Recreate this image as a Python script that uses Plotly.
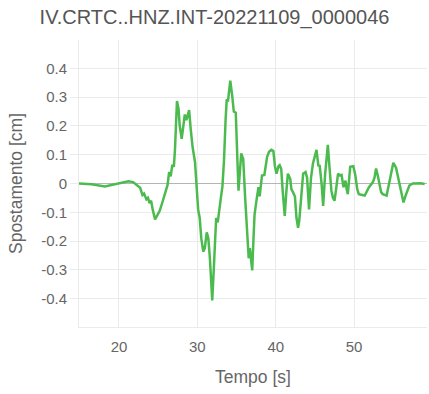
import plotly.graph_objects as go

# Displacement trace, vertical component
tempo = [
    14.9, 16.5, 18.2, 19.5, 21.2, 21.8, 22.4, 22.7, 23.0, 23.2, 23.5, 23.7, 23.9, 24.1,
    24.3, 24.6, 24.9, 25.2, 25.6, 25.9, 26.2, 26.4, 26.6, 26.8, 27.0, 27.15, 27.4, 27.6,
    27.75, 28.0, 28.2, 28.4, 28.6, 28.8, 28.95, 29.15, 29.4, 29.7, 29.9, 30.1, 30.3, 30.5,
    30.75, 30.95, 31.2, 31.4, 31.6, 31.9, 32.1, 32.25, 32.4, 32.6, 32.8, 33.0, 33.2, 33.4,
    33.6, 33.75, 33.9, 34.2, 34.45, 34.65, 34.9, 35.05, 35.25, 35.6, 35.85, 36.1, 36.3,
    36.55, 36.7, 37.0, 37.15, 37.3, 37.6, 37.8, 37.95, 38.25, 38.55, 38.9, 39.15, 39.45,
    39.7, 39.9, 40.1, 40.35, 40.5, 40.7, 40.9, 41.15, 41.35, 41.55, 41.85, 42.0, 42.2,
    42.45, 42.65, 42.85, 43.0, 43.15, 43.35, 43.5, 43.8, 44.0, 44.25, 44.5, 44.75, 45.0,
    45.2, 45.45, 45.6, 45.85, 46.05, 46.3, 46.5, 46.65, 46.85, 47.1, 47.3, 47.5, 47.75,
    47.95, 48.2, 48.4, 48.65, 48.9, 49.05, 49.2, 49.5, 49.9, 50.15, 50.4, 50.6, 51.0,
    51.35, 51.9, 52.4, 52.6, 52.8, 53.0, 53.2, 53.45, 53.65, 54.15, 54.5, 54.8, 55.0,
    55.35, 55.8, 56.1, 56.3, 56.6, 57.05, 57.5, 57.9, 58.5, 59.0,
]
spostamento = [
    0.0, -0.003, -0.01, -0.002, 0.008, 0.005, -0.010, -0.015, -0.040, -0.035, -0.055, -0.050,
    -0.068, -0.060, -0.090, -0.125, -0.110, -0.095, -0.060, -0.036, -0.005, 0.040, 0.025,
    0.065, 0.058, 0.120, 0.287, 0.260, 0.200, 0.155, 0.200, 0.240, 0.220, 0.240, 0.255,
    0.190, 0.125, 0.075, 0.000, -0.090, -0.120, -0.190, -0.237, -0.225, -0.170, -0.190,
    -0.260, -0.407, -0.296, -0.190, -0.120, -0.135, -0.080, -0.050, -0.010, 0.080, 0.220,
    0.293, 0.285, 0.358, 0.305, 0.250, 0.246, 0.150, -0.025, 0.105, 0.085, -0.050, -0.166,
    -0.260, -0.225, -0.302, -0.200, -0.107, -0.048, -0.013, -0.045, 0.028, 0.030, 0.093,
    0.110, 0.117, 0.113, 0.060, 0.034, 0.060, 0.064, 0.050, -0.030, -0.113, -0.030, 0.034,
    0.016, -0.020, -0.030, -0.045, -0.120, -0.154, -0.130, -0.075, 0.000, 0.034, 0.040,
    0.020, -0.090, 0.020, 0.070, 0.100, 0.117, 0.060, 0.065, 0.000, -0.078, 0.032, 0.110,
    0.134, 0.060, -0.025, -0.050, -0.060, -0.010, 0.034, 0.028, 0.030, -0.013, 0.010,
    -0.020, -0.037, 0.058, 0.060, 0.030, -0.020, -0.037, -0.040, -0.042, -0.013, 0.005,
    0.020, 0.052, 0.030, 0.000, -0.030, -0.037, -0.042, 0.005, 0.050, 0.072, 0.055, 0.000,
    -0.045, -0.066, -0.040, -0.007, 0.000, 0.000, 0.001, -0.002,
]

titolo = "IV.CRTC..HNZ.INT-20221109_0000046"
x_ticks = [20, 30, 40, 50]
y_ticks = [-0.4, -0.3, -0.2, -0.1, 0, 0.1, 0.2, 0.3, 0.4]

font_family = "Liberation Sans, Arial, sans-serif"
grid = "#ebebeb"

fig = go.Figure(
    go.Scatter(
        x=tempo,
        y=spostamento,
        mode="lines",
        line=dict(color="#4cbb4f", width=2.5),
        hoverinfo="x+y",
    )
)

fig.update_layout(
    width=429,
    height=394,
    margin=dict(l=79, r=2, t=40, b=67),
    paper_bgcolor="white",
    plot_bgcolor="white",
    showlegend=False,
    font=dict(family=font_family, color="#666666"),
    title=dict(
        text=titolo,
        x=0.5,
        xref="container",
        xanchor="center",
        y=1 - 17 / 394,
        yref="container",
        yanchor="middle",
        font=dict(size=20, color="#555555"),
    ),
)

fig.update_xaxes(
    range=[14.9, 59.3],
    tickmode="array",
    tickvals=x_ticks,
    ticktext=[str(v) for v in x_ticks],
    showgrid=True,
    gridcolor=grid,
    gridwidth=1,
    zeroline=False,
    showline=True,
    linecolor=grid,
    linewidth=1,
    ticks="",
    ticklabelstandoff=6,
    tickfont=dict(size=15, color="#666666"),
    title=dict(text="Tempo [s]", font=dict(size=17.5, color="#666666"), standoff=16),
)

fig.update_yaxes(
    range=[-0.499, 0.499],
    tickmode="array",
    tickvals=y_ticks,
    ticktext=[f"{v:g}" for v in y_ticks],
    showgrid=True,
    gridcolor=grid,
    gridwidth=1,
    zeroline=True,
    zerolinecolor="#b5b5b5",
    zerolinewidth=1,
    showline=True,
    linecolor=grid,
    linewidth=1,
    ticks="outside",
    ticklen=8,
    tickcolor=grid,
    tickfont=dict(size=15, color="#666666"),
    title=dict(text="Spostamento [cm]", font=dict(size=17.5, color="#666666"), standoff=14),
)

fig.write_html("out.html")
